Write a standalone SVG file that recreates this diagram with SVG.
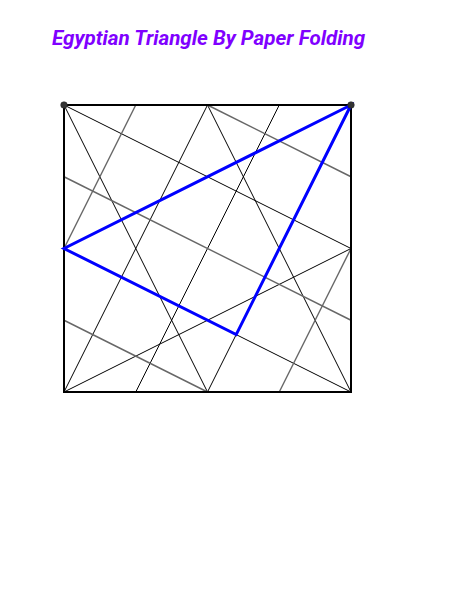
<svg xmlns="http://www.w3.org/2000/svg" width="456" height="611" viewBox="0 0 456 611">
<style>
.thin{stroke:#000;stroke-width:1;fill:none}
.gray{stroke:#666;stroke-width:1.4;fill:none}
.blue{stroke:#0000ff;stroke-width:3;fill:none;stroke-linejoin:miter}
.border{stroke:#000;stroke-width:2;fill:none}
.dot{fill:#333;stroke:#222;stroke-width:0.5}
.title{font-family:Roboto,"Liberation Sans",sans-serif;font-weight:bold;font-style:italic;font-size:20.6px;fill:#8000ff}
</style>
<rect width="456" height="611" fill="#fff"/>
<text class="title" x="52" y="45">Egyptian Triangle By Paper Folding</text>
<g id="connectors">
<line class="thin" x1="64" y1="105" x2="207.5" y2="392"/>
<line class="thin" x1="64" y1="105" x2="351" y2="248.5"/>
<line class="thin" x1="64" y1="392" x2="207.5" y2="105"/>
<line class="thin" x1="64" y1="392" x2="351" y2="248.5"/>
<line class="thin" x1="207.5" y1="105" x2="351" y2="392"/>
<line class="thin" x1="279.25" y1="105" x2="135.75" y2="392"/>
<line class="thin" x1="236.2" y1="334.6" x2="351" y2="392"/>
<line class="thin" x1="236.2" y1="334.6" x2="207.5" y2="392"/>
<line class="gray" x1="135.75" y1="105" x2="64" y2="248.5"/>
<line class="gray" x1="207.5" y1="105" x2="351" y2="176.75"/>
<line class="gray" x1="64" y1="176.75" x2="351" y2="320.25"/>
<line class="gray" x1="64" y1="320.25" x2="207.5" y2="392"/>
<line class="gray" x1="351" y1="248.5" x2="279.25" y2="392"/>
</g>
<g id="square">
<rect class="border" x="64" y="105" width="287" height="287"/>
</g>
<g id="triangle">
<polygon class="blue" points="351,105 64,248.5 236.2,334.6"/>
</g>
<g id="corner-tl"><circle class="dot" cx="64" cy="105" r="3.3"/></g>
<g id="corner-tr"><circle class="dot" cx="351" cy="105" r="3.3"/></g>
</svg>
